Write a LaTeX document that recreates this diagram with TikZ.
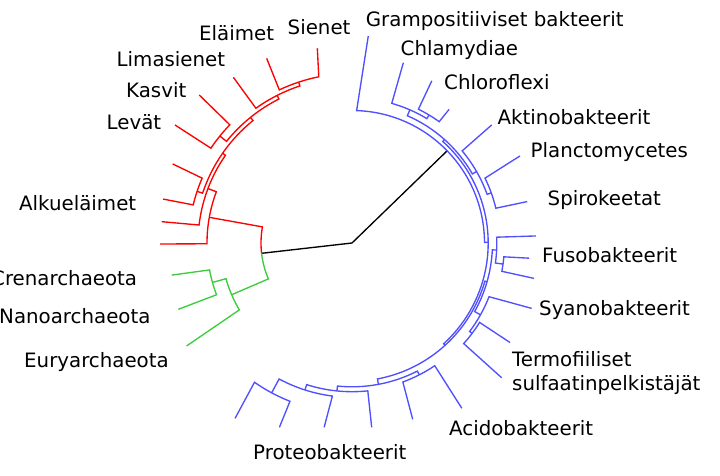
\documentclass[tikz,border=0pt]{standalone}
\usepackage{fontspec}
\setmainfont{DejaVu Sans}

\definecolor{eukred}{RGB}{255,0,0}
\definecolor{archgreen}{RGB}{60,205,60}
\definecolor{bactblue}{RGB}{80,80,255}

\begin{document}
\begin{tikzpicture}[
  x=1pt, y=1pt,
  every node/.style={font=\fontsize{19.8}{24.7}\selectfont, inner sep=0pt, anchor=base west},
  euk/.style  ={draw=eukred,    line width=1.35pt},
  arch/.style ={draw=archgreen, line width=1.35pt},
  bact/.style ={draw=bactblue,  line width=1.35pt},
  stem/.style ={draw=black,     line width=1.35pt},
]

\useasboundingbox (-352,-232) rectangle (368,243);

\coordinate (root) at (0,0);
\coordinate (eukarch) at (186.5:91);
\coordinate (bacteria) at (44.1:132.5);

\draw[stem] (eukarch) -- (root) -- (bacteria);

% eukaryotes
\draw[euk] (100.1:197.8) -- (101.3:169.5) arc[start angle=101.3, end angle=115.4, radius=169.5pt] -- (114.8:203.4);
\draw[euk] (108.35:169.5) -- (108.35:165.5) arc[start angle=108.35, end angle=125.5, radius=165.5pt] -- (125.6:203.8);
\draw[euk] (135.9:212.7) -- (135.95:170) arc[start angle=135.95, end angle=146.1, radius=170pt] -- (146.3:212.7);
\draw[euk] (116.9:165.5) -- (116.9:161.5) arc[start angle=116.9, end angle=141, radius=161.5pt] -- (141:170);
\draw[euk] (156.2:195.9) -- (156.6:163.3) arc[start angle=156.6, end angle=166.5, radius=163.3pt] -- (166.9:193.8);
\draw[euk] (128.95:161.5) -- (128.95:157.5) arc[start angle=128.95, end angle=161.55, radius=157.5pt] -- (161.55:163.3);
\draw[euk] (145.25:157.5) -- (145.25:154) arc[start angle=145.25, end angle=173.3, radius=154pt] -- (173.6:191.5);
\draw[euk] (159.3:154) -- (159.3:145) arc[start angle=159.3, end angle=180.3, radius=145pt] -- (180.3:192);
\draw[euk] (169.8:145) -- (169.8:91) arc[start angle=169.8, end angle=186.5, radius=91pt];

% archaea
\draw[arch] (eukarch) arc[start angle=186.5, end angle=203.25, radius=91pt] -- (203.25:131);
\draw[arch] (195.8:145) -- (195.8:131) arc[start angle=195.8, end angle=210.7, radius=131pt] -- (211.9:194.8);
\draw[arch] (190.1:183.1) -- (190.7:145) arc[start angle=190.7, end angle=200.9, radius=145pt] -- (200.9:185.9);

% bacteria
\draw[bact] (85.5:207.6) -- (88:132.5) arc[start angle=88, end angle=0.25, radius=132.5pt] -- (0.25:136.2);
\draw[bact] (48.2:138.8) -- (48.2:136.2) arc[start angle=48.2, end angle=-47.7, radius=136.2pt] -- (-47.7:138.3);
\draw[bact] (66.5:145.2) -- (66.5:138.8) arc[start angle=66.5, end angle=29.85, radius=138.8pt] -- (29.85:143.6);
\draw[bact] (74.1:187.5) -- (74.1:145.2) arc[start angle=74.1, end angle=58.95, radius=145.2pt] -- (58.95:149.4);
\draw[bact] (63.8:180.8) -- (63.6:149.4) arc[start angle=63.6, end angle=54.3, radius=149.4pt] -- (54:165.2);
\draw[bact] (40.2:182.9) -- (39.9:143.6) arc[start angle=39.9, end angle=19.8, radius=143.6pt] -- (19.8:148);
\draw[bact] (27.4:189.2) -- (26:148) arc[start angle=26, end angle=13.6, radius=148pt] -- (13.3:180.1);
\draw[bact] (-16:140.5) -- (-16:138.3) arc[start angle=-16, end angle=-79.4, radius=138.3pt] -- (-79.4:143.8);
\draw[bact] (-2.8:144.8) -- (-2.8:140.5) arc[start angle=-2.8, end angle=-29.2, radius=140.5pt] -- (-29.2:147.2);
\draw[bact] (2.2:184.1) -- (2.3:144.8) arc[start angle=2.3, end angle=-7.95, radius=144.8pt] -- (-7.95:152.5);
\draw[bact] (-4.9:177.7) -- (-5.2:152.5) arc[start angle=-5.2, end angle=-10.7, radius=152.5pt] -- (-11:185.4);
\draw[bact] (-20:191.2) -- (-21.4:147.2) arc[start angle=-21.4, end angle=-36.95, radius=147.2pt] -- (-36.95:150.3);
\draw[bact] (-32.2:186.8) -- (-31.9:150.3) arc[start angle=-31.9, end angle=-42, radius=150.3pt] -- (-42:201.4);
\draw[bact] (-62.95:148) -- (-62.95:143.8) arc[start angle=-62.95, end angle=-95.8, radius=143.8pt] -- (-95.8:148.7);
\draw[bact] (-56.4:198.4) -- (-56:148) arc[start angle=-56, end angle=-69.9, radius=148pt] -- (-71:186.5);
\draw[bact] (-83.9:185.4) -- (-83.9:148.7) arc[start angle=-83.9, end angle=-107.75, radius=148.7pt] -- (-107.75:154.3);
\draw[bact] (-98.6:186.4) -- (-97.3:154.3) arc[start angle=-97.3, end angle=-118.2, radius=154.3pt] -- (-118.2:170);
\draw[bact] (-111.5:198.1) -- (-111.4:170) arc[start angle=-111.4, end angle=-125, radius=170pt] -- (-123.7:210.8);

% labels
\node (sienet)   at (-64.5,208.7)  {Sienet};
\node (elaimet)  at (-153,202.3)   {Eläimet};
\node (limas)    at (-235.5,176.3) {Limasienet};
\node (kasvit)   at (-226,145.7)   {Kasvit};
\node (levat)    at (-245.5,113.7) {Levät};
\node (alku)     at (-333,32.3)    {Alkueläimet};
\node (cren)     at (-361,-42)     {Crenarchaeota};
\node (nano)     at (-353,-80)     {Nanoarchaeota};
\node (eury)     at (-328,-124)    {Euryarchaeota};
\node (gram)     at (13.7,217)     {Grampositiiviset bakteerit};
\node (chlam)    at (48.5,188)     {Chlamydiae};
\node (chloro)   at (92,153.7)     {Chloroflexi};
\node (aktino)   at (145.5,118.7)  {Aktinobakteerit};
\node (plancto)  at (178.5,85.7)   {Planctomycetes};
\node (spiro)    at (195.5,38)     {Spirokeetat};
\node (fuso)     at (190,-19)      {Fusobakteerit};
\node (syano)    at (187,-72)      {Syanobakteerit};
\node[align=left] (termo) at (160,-147.7) {Termofiiliset\\sulfaatinpelkistäjät};
\node (acido)    at (97,-192)      {Acidobakteerit};
\node (proteo)   at (-99,-216)     {Proteobakteerit};

\end{tikzpicture}
\end{document}
